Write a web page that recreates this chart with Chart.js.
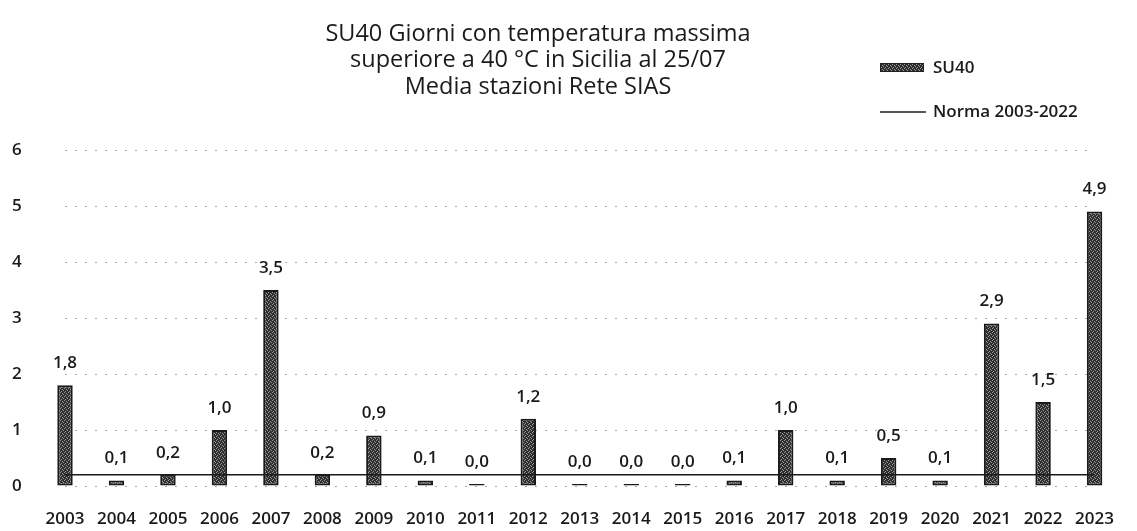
<!DOCTYPE html>
<html>
<head>
<meta charset="utf-8">
<script src="https://cdn.jsdelivr.net/npm/chart.js@4.4.0/dist/chart.umd.min.js"></script>
<style>
  html, body { margin: 0; padding: 0; background: #fff; }
  #wrap { width: 1137px; height: 531px; }
</style>
</head>
<body>
<div id="wrap"><canvas id="chart"></canvas></div>
<script>
// Data
const years = ['2003', '2004', '2005', '2006', '2007', '2008', '2009', '2010', '2011', '2012', '2013',
    '2014', '2015', '2016', '2017', '2018', '2019', '2020', '2021', '2022', '2023'];
const su40 = [1.8, 0.1, 0.2, 1.0, 3.5, 0.2, 0.9, 0.1, 0.0, 1.2, 0.0,
    0.0, 0.0, 0.1, 1.0, 0.1, 0.5, 0.1, 2.9, 1.5, 4.9];
const norma = [0.2, 0.2, 0.2, 0.2, 0.2, 0.2, 0.2, 0.2, 0.2, 0.2, 0.2,
    0.2, 0.2, 0.2, 0.2, 0.2, 0.2, 0.2, 0.2, 0.2, 0.2];
const titleLines = ['SU40 Giorni con temperatura massima', 'superiore a 40 °C in Sicilia al 25/07', 'Media stazioni Rete SIAS'];

const FONT = '"Open Sans", Lato, sans-serif';

// speckled grey fill like the scanned bars
const makePattern = () => {
    const c = document.createElement('canvas');
    c.width = 4; c.height = 4;
    const g = c.getContext('2d');
    g.fillStyle = '#2e2e2e';
    g.fillRect(0, 0, 4, 4);
    g.fillStyle = '#9a9a9a';
    [[0, 0], [2, 1], [1, 3], [3, 2]].forEach(([x, y]) => g.fillRect(x, y, 1, 1));
    return g.createPattern(c, 'repeat');
};
const barFill = makePattern();

// title + legend drawn at their spots in the picture
const decorPlugin = {
    id: 'decor',
    afterDraw: (chart) => {
        const ctx = chart.ctx;
        ctx.save();
        ctx.fillStyle = '#1a1a1a';
        ctx.font = '23.5px ' + FONT;
        ctx.textAlign = 'center';
        ctx.textBaseline = 'middle';
        titleLines.forEach((t, i) => ctx.fillText(t, 538, 34 + i * 26.5));

        // legend
        ctx.fillStyle = barFill;
        ctx.fillRect(880, 63, 44, 9);
        ctx.strokeStyle = '#222';
        ctx.lineWidth = 1;
        ctx.strokeRect(880.5, 63.5, 43, 8);
        ctx.beginPath();
        ctx.moveTo(880, 112);
        ctx.lineTo(926, 112);
        ctx.lineWidth = 1.5;
        ctx.stroke();
        ctx.fillStyle = '#1a1a1a';
        ctx.font = '600 17px ' + FONT;
        ctx.textAlign = 'left';
        ctx.fillText('SU40', 933, 68);
        ctx.fillText('Norma 2003-2022', 933, 112);
        ctx.restore();
    }
};

// value labels on top of the bars
const valuePlugin = {
    id: 'values',
    afterDatasetsDraw: (chart) => {
        const ctx = chart.ctx;
        const meta = chart.getDatasetMeta(0);
        const y0 = chart.scales.y.getPixelForValue(0);
        ctx.save();
        ctx.fillStyle = '#1a1a1a';
        ctx.font = '600 17px ' + FONT;
        ctx.textAlign = 'center';
        ctx.textBaseline = 'middle';
        meta.data.forEach((bar, i) => {
            const top = Math.min(bar.y, y0);
            ctx.fillText(su40[i].toFixed(1).replace('.', ','), bar.x, top - 22);
        });
        ctx.restore();
    }
};

const ctx = document.getElementById('chart').getContext('2d');
new Chart(ctx, {
    type: 'bar',
    data: {
        labels: years,
        datasets: [{
            label: 'SU40',
            data: su40,
            backgroundColor: barFill,
            borderColor: '#1a1a1a',
            borderWidth: 2,
            borderSkipped: false,
            barPercentage: 0.3,
            categoryPercentage: 1,
            minBarLength: 2,
            clip: false,
            order: 2
        }, {
            type: 'line',
            label: 'Norma 2003-2022',
            data: norma,
            borderColor: '#1a1a1a',
            borderWidth: 1.6,
            pointRadius: 0,
            fill: false,
            clip: false,
            order: 1
        }]
    },
    options: {
        responsive: true,
        maintainAspectRatio: false,
        animation: false,
        layout: { padding: { top: 150, right: 21, bottom: 0, left: 12 } },
        plugins: {
            legend: { display: false },
            title: { display: false },
            tooltip: { enabled: false }
        },
        scales: {
            x: {
                offset: false,
                afterFit: (scale) => { scale.height = 45; },
                grid: { display: false, drawTicks: false },
                border: { display: false },
                ticks: {
                    color: '#1a1a1a',
                    font: { family: FONT, size: 17, weight: '600' },
                    padding: 23,
                    maxRotation: 0,
                    autoSkip: false
                }
            },
            y: {
                min: 0,
                max: 6,
                afterFit: (scale) => { scale.width = 53; },
                grid: { color: '#a8a8a8', lineWidth: 1, drawTicks: false },
                border: { display: false, dash: [2, 8] },
                ticks: {
                    stepSize: 1,
                    color: '#1a1a1a',
                    font: { family: FONT, size: 17, weight: '600' },
                    padding: 0,
                    crossAlign: 'far'
                }
            }
        }
    },
    plugins: [decorPlugin, valuePlugin]
});
</script>
</body>
</html>
